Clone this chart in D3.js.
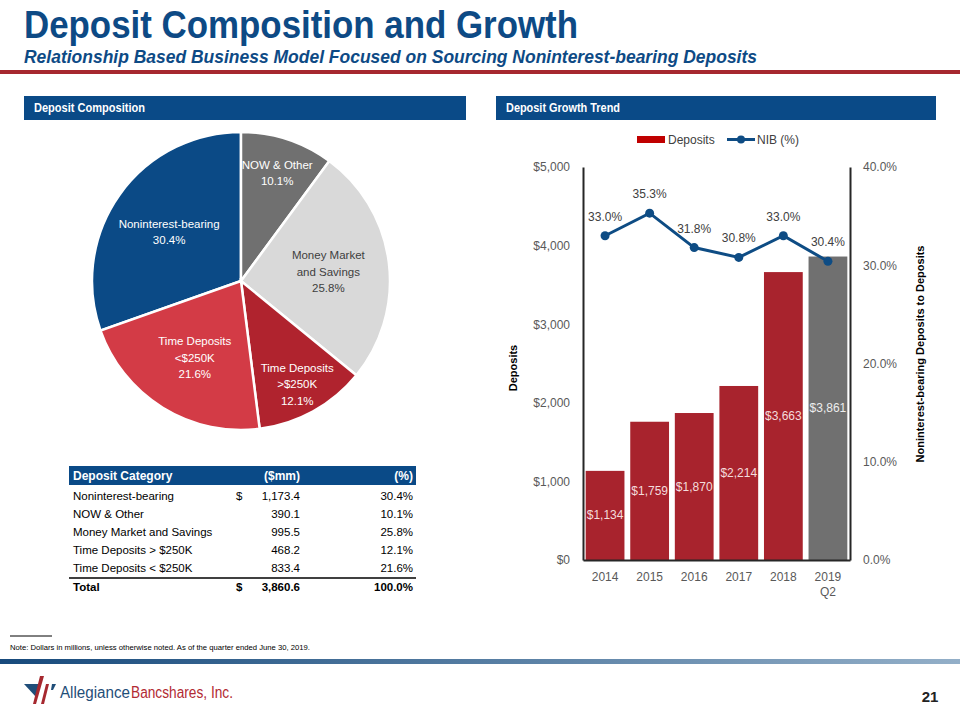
<!DOCTYPE html>
<html><head><meta charset="utf-8">
<script src="https://cdn.jsdelivr.net/npm/d3@7"></script>
<style>
body{margin:0;background:#fff;}
svg{display:block;font-family:"Liberation Sans",Arial,sans-serif;}
</style></head>
<body>
<script>
// ---------- DATA ----------
const pieCategories = ["Noninterest-bearing","NOW & Other","Money Market and Savings","Time Deposits > $250K","Time Deposits < $250K"];
const pieLabels = [["Noninterest-bearing","30.4%"],["NOW & Other","10.1%"],["Money Market","and Savings","25.8%"],["Time Deposits",">$250K","12.1%"],["Time Deposits","<$250K","21.6%"]];
const pieAmounts = [1173.4, 390.1, 995.5, 468.2, 833.4];
const piePercents = [30.4, 10.1, 25.8, 12.1, 21.6];
const pieColors = ["#0B4A86","#707070","#D9D9D9","#B0232E","#D33B46"];
const pieTextColors = ["#ffffff","#ffffff","#404040","#ffffff","#ffffff"];
const totalAmount = 3860.6;
const totalPercent = 100.0;

const years = ["2014","2015","2016","2017","2018","2019 Q2"];
const deposits = [1134, 1759, 1870, 2214, 3663, 3861];
const nibPct = [33.0, 35.3, 31.8, 30.8, 33.0, 30.4];
const leftTicks = [0,1000,2000,3000,4000,5000];
const rightTicks = [0,10,20,30,40];

// ---------- SVG ----------
const W=960,H=720;
const svg=d3.select("body").append("svg").attr("width",W).attr("height",H);
const BLUE="#0A4A87", RED="#A8232D";

function fitText(sel,len){ return sel.attr("textLength",len).attr("lengthAdjust","spacingAndGlyphs"); }

// Title
fitText(svg.append("text").attr("x",24).attr("y",38).attr("font-weight","bold")
  .attr("font-size",39).attr("fill","#0D4A85").text("Deposit Composition and Growth"),554);
fitText(svg.append("text").attr("x",24).attr("y",63).attr("font-weight","bold")
  .attr("font-style","italic").attr("font-size",18).attr("fill","#0D4A85")
  .text("Relationship Based Business Model Focused on Sourcing Noninterest-bearing Deposits"),733);
svg.append("rect").attr("x",0).attr("y",70).attr("width",W).attr("height",4).attr("fill","#A6282F");

// Section bars
[[24,466,"Deposit Composition",111],[496,936,"Deposit Growth Trend",114]].forEach(([x0,x1,t,len])=>{
  svg.append("rect").attr("x",x0).attr("y",96).attr("width",x1-x0).attr("height",24).attr("fill",BLUE);
  fitText(svg.append("text").attr("x",x0+10).attr("y",112).attr("font-weight","bold")
    .attr("font-size",12).attr("fill","#fff").text(t),len);
});

// ---------- PIE ----------
const cx=241, cy=281, R=149;
const total = d3.sum(piePercents);
const start = -piePercents[0]/total*2*Math.PI;
const pie = d3.pie().sort(null).value(d=>d).startAngle(start).endAngle(start+2*Math.PI);
const arcs = pie(piePercents);
const arc = d3.arc().innerRadius(0).outerRadius(R);
const gp = svg.append("g").attr("transform",`translate(${cx},${cy})`);
gp.selectAll("path").data(arcs).join("path").attr("d",arc)
  .attr("fill",(d,i)=>pieColors[i]).attr("stroke","#fff").attr("stroke-width",2.5);
arcs.forEach((a,i)=>{
  const lr = piePercents[i] < 15 ? 116 : 88;
  const la = d3.arc().innerRadius(lr).outerRadius(lr);
  const [x,y] = la.centroid(a);
  const lines = pieLabels[i];
  const t = gp.append("text").attr("text-anchor","middle").attr("font-size",11.5)
    .attr("fill",pieTextColors[i]);
  lines.forEach((l,k)=>{
    t.append("tspan").attr("x",x).attr("y",y + (k-(lines.length-1)/2)*16.5 + 6).text(l);
  });
});

// ---------- TABLE ----------
const tx0=69, tx1=416;
svg.append("rect").attr("x",tx0).attr("y",466).attr("width",tx1-tx0).attr("height",19).attr("fill",BLUE);
const th = svg.append("g").attr("font-weight","bold").attr("font-size",12).attr("fill","#fff");
th.append("text").attr("x",tx0+4).attr("y",480).text("Deposit Category");
th.append("text").attr("x",300).attr("y",480).attr("text-anchor","end").text("($mm)");
th.append("text").attr("x",tx1-3).attr("y",480).attr("text-anchor","end").text("(%)");
const rowY = d3.scaleLinear().domain([0,1]).range([500,518]);
pieCategories.forEach((c,i)=>{
  const y=rowY(i);
  const g=svg.append("g").attr("font-size",11.5).attr("fill","#000");
  g.append("text").attr("x",tx0+4).attr("y",y).text(c);
  if(i===0) g.append("text").attr("x",236).attr("y",y).text("$");
  g.append("text").attr("x",300).attr("y",y).attr("text-anchor","end").text(d3.format(",.1f")(pieAmounts[i]));
  g.append("text").attr("x",tx1-3).attr("y",y).attr("text-anchor","end").text(piePercents[i].toFixed(1)+"%");
});
svg.append("line").attr("x1",tx0).attr("x2",tx1).attr("y1",578).attr("y2",578).attr("stroke","#000").attr("stroke-width",1.5);
const tg=svg.append("g").attr("font-size",11.5).attr("font-weight","bold").attr("fill","#000");
tg.append("text").attr("x",tx0+4).attr("y",591).text("Total");
tg.append("text").attr("x",236).attr("y",591).text("$");
tg.append("text").attr("x",300).attr("y",591).attr("text-anchor","end").text(d3.format(",.1f")(totalAmount));
tg.append("text").attr("x",tx1-3).attr("y",591).attr("text-anchor","end").text(totalPercent.toFixed(1)+"%");

// ---------- BAR + LINE ----------
const xL=583, xR=850, yT=167, yB=560;
const x = d3.scaleBand().domain(years).range([xL,xR]).paddingInner(0.13).paddingOuter(0.06);
const y = d3.scaleLinear().domain([0,5000]).range([yB,yT]);
const y2 = d3.scaleLinear().domain([0,40]).range([yB,yT]);
const gc = svg.append("g");

gc.selectAll("rect.bar").data(deposits).join("rect").attr("class","bar")
  .attr("x",(d,i)=>x(years[i])).attr("width",x.bandwidth())
  .attr("y",d=>y(d)).attr("height",d=>yB-y(d))
  .attr("fill",(d,i)=>i===years.length-1?"#707070":RED);
gc.selectAll("text.bl").data(deposits).join("text").attr("class","bl")
  .attr("x",(d,i)=>x(years[i])+x.bandwidth()/2).attr("y",d=>(y(d)+yB)/2+4)
  .attr("text-anchor","middle").attr("font-size",12)
  .attr("fill",(d,i)=>i===years.length-1?"#EDEDED":"#F4DCDC")
  .text(d=>"$"+d3.format(",")(d));

// axes
const axL = gc.append("g").attr("transform",`translate(${xL},0)`)
  .call(d3.axisLeft(y).tickValues(leftTicks).tickSize(0).tickPadding(13).tickFormat(d=>"$"+d3.format(",")(d)));
const axR = gc.append("g").attr("transform",`translate(${xR},0)`)
  .call(d3.axisRight(y2).tickValues(rightTicks).tickSize(0).tickPadding(13).tickFormat(d=>d.toFixed(1)+"%"));
const axB = gc.append("g").attr("transform",`translate(0,${yB})`)
  .call(d3.axisBottom(x).tickSize(0).tickPadding(12).tickFormat(""));
[axL,axR,axB].forEach(a=>{
  a.select(".domain").attr("stroke","#262626").attr("stroke-width",2);
  a.selectAll("text").attr("font-size",12).attr("fill","#595959").attr("font-family",'"Liberation Sans",Arial,sans-serif');
});
axB.selectAll(".tick text").each(function(d){
  const parts=d.split(" ");
  const t=d3.select(this).text(null);
  parts.forEach((p,k)=>t.append("tspan").attr("x",0).attr("dy",k===0?"0.71em":"1.3em").text(p));
});

// line
const line = d3.line().x((d,i)=>x(years[i])+x.bandwidth()/2).y(d=>y2(d));
gc.append("path").datum(nibPct).attr("d",line).attr("fill","none").attr("stroke","#0E4C84").attr("stroke-width",3);
gc.selectAll("circle.pt").data(nibPct).join("circle").attr("class","pt")
  .attr("cx",(d,i)=>x(years[i])+x.bandwidth()/2).attr("cy",d=>y2(d)).attr("r",4.5).attr("fill","#0E4C84");
gc.selectAll("text.pl").data(nibPct).join("text").attr("class","pl")
  .attr("x",(d,i)=>x(years[i])+x.bandwidth()/2).attr("y",d=>y2(d)-15)
  .attr("text-anchor","middle").attr("font-size",12).attr("fill","#404040")
  .text(d=>d.toFixed(1)+"%");

// axis titles
svg.append("text").attr("transform",`translate(517,368) rotate(-90)`).attr("text-anchor","middle")
  .attr("font-size",11).attr("font-weight","bold").attr("fill","#000").text("Deposits");
svg.append("text").attr("transform",`translate(924,354) rotate(-90)`).attr("text-anchor","middle")
  .attr("font-size",11).attr("font-weight","bold").attr("fill","#000").text("Noninterest-bearing Deposits to Deposits");

// legend
const lg = svg.append("g").attr("font-size",12).attr("fill","#404040");
lg.append("rect").attr("x",637).attr("y",136).attr("width",28).attr("height",7).attr("fill","#C00000");
lg.append("text").attr("x",668).attr("y",144).text("Deposits");
lg.append("line").attr("x1",727).attr("x2",755).attr("y1",139.5).attr("y2",139.5).attr("stroke","#0E4C84").attr("stroke-width",3);
lg.append("circle").attr("cx",741).attr("cy",139.5).attr("r",4).attr("fill","#0E4C84");
lg.append("text").attr("x",757).attr("y",144).text("NIB (%)");

// ---------- FOOTER ----------
svg.append("line").attr("x1",10).attr("x2",52).attr("y1",636).attr("y2",636).attr("stroke","#000").attr("stroke-width",1);
fitText(svg.append("text").attr("x",10).attr("y",650).attr("font-size",7.5).attr("fill","#000")
  .text("Note: Dollars in millions, unless otherwise noted. As of the quarter ended June 30, 2019."),300);
const defs=svg.append("defs");
const grad=defs.append("linearGradient").attr("id","fg").attr("x1","0%").attr("x2","100%");
grad.append("stop").attr("offset","0%").attr("stop-color","#174A7C");
grad.append("stop").attr("offset","100%").attr("stop-color","#93AFC8");
svg.append("rect").attr("x",0).attr("y",659).attr("width",W).attr("height",5).attr("fill","url(#fg)");

// logo
const lgG=svg.append("g");
lgG.append("path").attr("d","M24,684 L40,684 L36,697 Z").attr("fill","#1F4E79");
lgG.append("path").attr("d","M40,676 L44,676 L36,704 L33,704 Z").attr("fill","#A6282F");
lgG.append("path").attr("d","M46,684 L49,684 L44,704 L41,704 Z").attr("fill","#A6282F");
lgG.append("path").attr("d","M52,684 L56,684 L53,690 L51,690 Z").attr("fill","#1F4E79");
fitText(lgG.append("text").attr("x",60).attr("y",698).attr("font-size",16).attr("fill","#1F4E79").text("Allegiance"),70);
fitText(lgG.append("text").attr("x",131).attr("y",698).attr("font-size",16).attr("fill","#B22A33").text("Bancshares, Inc."),102);
svg.append("text").attr("x",930).attr("y",702).attr("text-anchor","middle").attr("font-size",15)
  .attr("font-weight","bold").attr("fill","#222").text("21");
</script>
</body></html>
